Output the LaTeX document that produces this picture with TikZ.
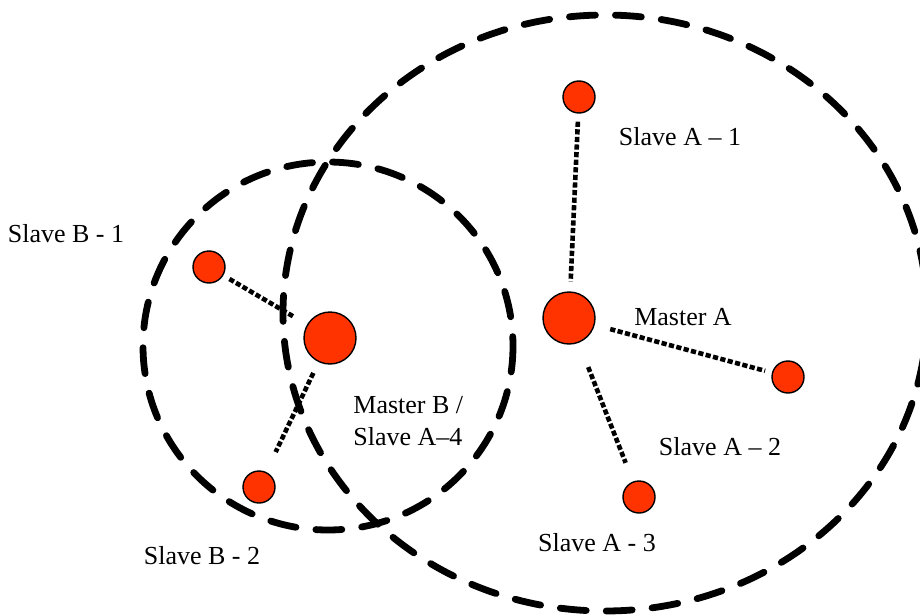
\documentclass[tikz,border=0pt]{standalone}
\usepackage{fontspec}
\setmainfont{Liberation Serif}
\usetikzlibrary{positioning}
\definecolor{nodered}{RGB}{255,51,0}

\begin{document}
\begin{tikzpicture}[
  x=0.5pt, y=-0.5pt,
  master/.style={circle, draw, line width=0.7pt, fill=nodered, minimum size=26pt, inner sep=0pt},
  slave/.style={circle, draw, line width=0.7pt, fill=nodered, minimum size=16pt, inner sep=0pt},
  zone/.style={line width=3.4pt, line cap=round, dash pattern=on 13pt off 10pt},
  link/.style={line width=2.3pt, dash pattern=on 2.6pt off 1.2pt},
  lbl/.style={font=\fontsize{13}{16}\selectfont, inner sep=0pt},
]
\clip (0,0) rectangle (920,615);
% nodes
\node[master] (ma) at (569,318) {};
\node[slave] (a1) at (579,97) {};
\node[slave] (a2) at (788,377) {};
\node[slave] (a3) at (639,497) {};
\node[master] (mb) at (330,338) {};
\node[slave] (b1) at (209,267) {};
\node[slave] (b2) at (259,487) {};
% labels
\node[lbl] (lma) at (683,317) {Master A};
\node[lbl] (la1) at (680,137) {Slave A -- 1};
\node[lbl] (la2) at (720,447) {Slave A -- 2};
\node[lbl] (la3) at (597,543) {Slave A - 3};
\node[lbl, align=left, anchor=west] (lmb) at (353,421) {Master B /\\Slave A--4};
\node[lbl] (lb1) at (66,234) {Slave B - 1};
\node[lbl] (lb2) at (202,556) {Slave B - 2};
% ranges of the two masters
\draw[zone] (605,313) ellipse [x radius=322, y radius=298];
\draw[zone] (328,346) ellipse [x radius=185, y radius=184];
% links
\draw[link, shorten <=4pt, shorten >=5pt] (a1) -- (ma);
\draw[link, shorten <=8pt, shorten >=3.5pt] (ma) -- (a2);
\draw[link, shorten <=13pt, shorten >=10pt] (ma) -- (a3);
\draw[link, shorten <=3.5pt, shorten >=8pt] (b1) -- (mb);
\draw[link, shorten <=6pt, shorten >=11pt] (mb) -- (b2);
\end{tikzpicture}
\end{document}
